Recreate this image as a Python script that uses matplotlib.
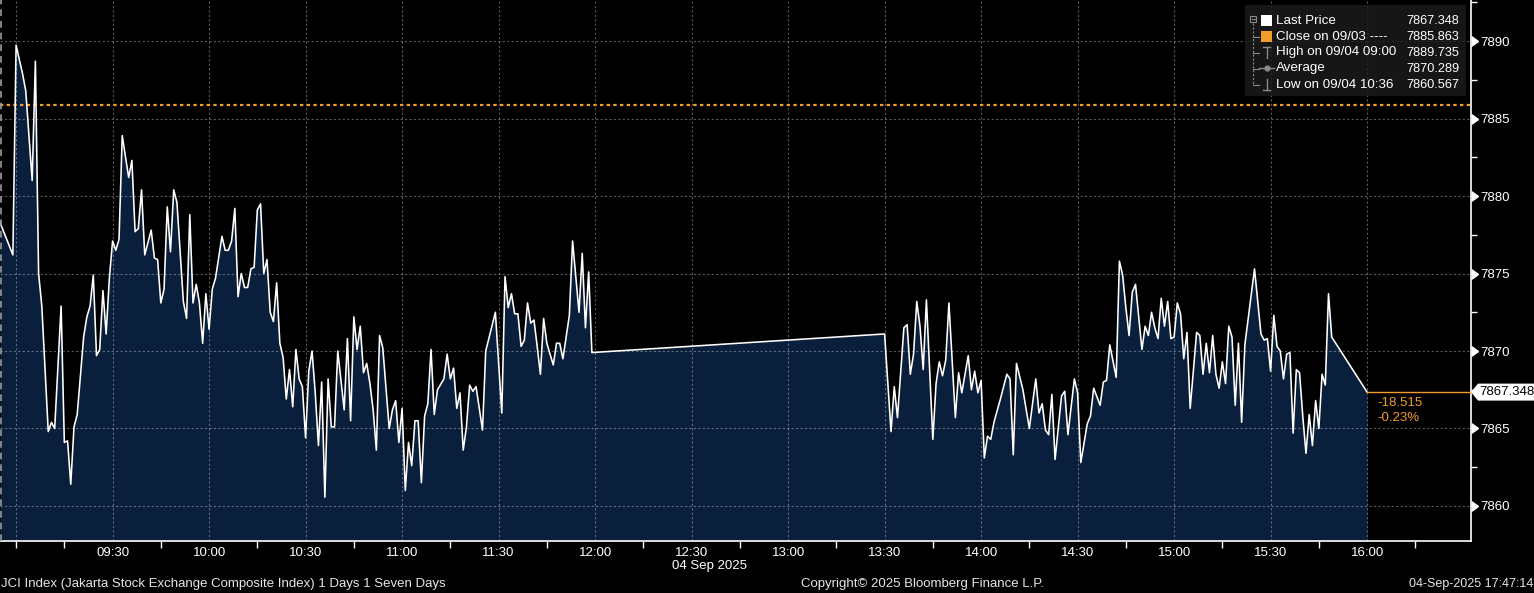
import matplotlib
matplotlib.use("Agg")
import matplotlib.pyplot as plt
from matplotlib.patches import Rectangle, Polygon
from matplotlib.lines import Line2D
import matplotlib.ticker as mticker

plt.rcParams['font.family'] = ['Liberation Sans', 'DejaVu Sans']

# ---------------- data (minutes after 09:00, JCI index level) ----------------
morning_times = [-5, -1, 0, 2, 3, 5, 6, 7, 8, 10, 11, 12, 14, 15, 16, 17, 18, 19, 21, 22,
                 23, 24, 25, 26, 27, 28, 29, 30, 31, 32, 33, 35, 36, 37, 38, 39, 40, 42, 43, 44,
                 45, 46, 47, 48, 49, 50, 52, 53, 54, 55, 56, 57, 58, 59, 60, 61, 62, 64, 65, 66,
                 67, 68, 69, 70, 71, 72, 73, 74, 75, 76, 77, 78, 79, 80, 81, 82, 83, 84, 85, 86,
                 87, 88, 89, 90, 91, 92, 93, 94, 95, 96, 97, 98, 99, 100, 101, 102, 103, 104, 105, 106,
                 107, 108, 109, 110, 111, 112, 113, 114, 116, 117, 118, 119, 120, 121, 122, 123, 124, 125, 126, 127,
                 128, 129, 130, 131, 133, 134, 135, 136, 137, 138, 139, 140, 141, 142, 143, 145, 146, 149, 151, 152,
                 153, 154, 155, 156, 157, 158, 159, 160, 161, 162, 163, 164, 165, 167, 168, 169, 170, 172, 173, 175,
                 176, 177, 178, 179]
morning_prices = [7878.3, 7876.2, 7889.735, 7887.9, 7886.8, 7881.0, 7888.7, 7875.0, 7872.9, 7864.8,
                  7865.4, 7865.0, 7872.9, 7864.1, 7864.2, 7861.4, 7865.1, 7865.9, 7870.9, 7872.2,
                  7872.9, 7874.9, 7869.7, 7870.1, 7873.9, 7871.1, 7874.7, 7877.1, 7876.5, 7877.2,
                  7883.9, 7881.2, 7882.3, 7877.7, 7877.9, 7880.4, 7876.2, 7877.8, 7876.0, 7875.9,
                  7873.1, 7874.0, 7879.3, 7876.4, 7880.4, 7879.6, 7873.2, 7872.1, 7878.8, 7873.1,
                  7874.3, 7873.1, 7870.5, 7873.7, 7871.4, 7874.0, 7874.7, 7877.4, 7876.5, 7876.5,
                  7877.1, 7879.2, 7873.5, 7875.0, 7874.1, 7874.1, 7875.3, 7875.4, 7879.1, 7879.5,
                  7875.0, 7875.9, 7872.5, 7871.9, 7874.4, 7870.5, 7869.6, 7866.9, 7868.8, 7866.4,
                  7870.1, 7868.2, 7867.7, 7864.4, 7868.7, 7870.0, 7867.3, 7863.9, 7868.0, 7860.567,
                  7868.2, 7865.1, 7865.1, 7870.0, 7868.1, 7866.2, 7870.8, 7865.5, 7872.2, 7870.1,
                  7871.6, 7868.6, 7869.2, 7867.9, 7866.2, 7863.6, 7871.0, 7870.2, 7865.0, 7866.2,
                  7866.8, 7864.1, 7866.3, 7861.0, 7864.1, 7862.6, 7865.5, 7865.5, 7861.5, 7865.8,
                  7866.6, 7870.1, 7865.9, 7867.5, 7868.2, 7869.8, 7868.2, 7868.9, 7866.3, 7867.3,
                  7863.6, 7865.1, 7867.8, 7867.4, 7867.7, 7864.9, 7870.0, 7872.5, 7866.0, 7874.8,
                  7872.8, 7873.7, 7872.4, 7872.4, 7870.3, 7870.7, 7873.1, 7871.8, 7872.0, 7870.3,
                  7868.5, 7872.1, 7870.5, 7869.1, 7870.5, 7870.5, 7869.5, 7872.3, 7877.1, 7872.5,
                  7876.3, 7871.5, 7875.1, 7869.9]
afternoon_times = [270, 272, 273, 274, 276, 277, 278, 279, 280, 281, 282, 283, 285, 286, 287, 288, 289, 290, 292, 293,
                   294, 296, 297, 298, 299, 300, 301, 302, 303, 304, 306, 308, 309, 310, 311, 313, 315, 317, 318, 319,
                   320, 321, 322, 323, 325, 326, 327, 329, 330, 331, 333, 334, 335, 337, 338, 339, 340, 342, 343, 344,
                   345, 346, 347, 348, 350, 351, 352, 353, 354, 355, 356, 357, 358, 359, 360, 361, 362, 363, 364, 365,
                   367, 368, 369, 370, 371, 372, 373, 374, 375, 376, 377, 378, 379, 380, 381, 382, 385, 387, 388, 389,
                   390, 391, 392, 393, 394, 395, 396, 397, 398, 399, 400, 401, 402, 403, 404, 405, 406, 407, 408, 409,
                   420]
afternoon_prices = [7871.1, 7864.8, 7867.7, 7865.7, 7871.5, 7871.7, 7868.5, 7869.8, 7873.2, 7871.6,
                    7868.8, 7873.3, 7864.3, 7867.9, 7869.3, 7868.4, 7869.4, 7873.1, 7865.7, 7868.6,
                    7867.3, 7869.7, 7867.5, 7868.7, 7867.3, 7868.1, 7863.1, 7864.5, 7864.3, 7865.4,
                    7866.9, 7868.5, 7868.2, 7863.3, 7869.2, 7867.5, 7865.0, 7868.2, 7866.0, 7866.6,
                    7864.9, 7864.6, 7867.2, 7863.0, 7867.1, 7867.4, 7864.6, 7868.2, 7867.3, 7862.8,
                    7865.3, 7865.8, 7867.6, 7866.5, 7868.0, 7868.1, 7870.4, 7868.3, 7875.8, 7874.9,
                    7872.8, 7871.0, 7873.8, 7874.3, 7870.1, 7871.6, 7871.0, 7872.5, 7871.5, 7870.8,
                    7873.4, 7871.6, 7873.2, 7870.8, 7870.9, 7873.1, 7872.4, 7869.5, 7871.2, 7866.3,
                    7871.2, 7871.0, 7868.5, 7870.5, 7868.6, 7871.0, 7868.5, 7867.6, 7869.3, 7867.9,
                    7871.6, 7870.9, 7866.5, 7870.5, 7865.4, 7870.4, 7875.3, 7871.1, 7870.7, 7870.8,
                    7868.7, 7872.3, 7870.3, 7870.0, 7868.2, 7869.8, 7869.9, 7864.7, 7868.8, 7868.6,
                    7865.8, 7863.4, 7865.9, 7863.9, 7866.8, 7865.0, 7868.5, 7867.8, 7873.7, 7870.9,
                    7867.348]

prev_close = 7885.863
last_price = 7867.348
change_text = "-18.515"
change_pct_text = "-0.23%"

legend_labels = ["Last Price", "Close on 09/03 ----", "High on 09/04 09:00", "Average", "Low on 09/04 10:36"]
legend_values = ["7867.348", "7885.863", "7889.735", "7870.289", "7860.567"]

x_tick_minutes = [30, 60, 90, 120, 150, 180, 210, 240, 270, 300, 330, 360, 390, 420]
x_tick_labels = ["09:30", "10:00", "10:30", "11:00", "11:30", "12:00", "12:30", "13:00",
                 "13:30", "14:00", "14:30", "15:00", "15:30", "16:00"]
x_minor_minutes = [0, 15, 45, 75, 105, 135, 165, 195, 225, 255, 285, 315, 345, 375, 405, 435]
grid_minutes = [0] + x_tick_minutes
y_ticks = [7860, 7865, 7870, 7875, 7880, 7885, 7890]
y_minor = [7857.5, 7862.5, 7867.5, 7872.5, 7877.5, 7882.5, 7887.5, 7892.5]

date_label = "04 Sep 2025"
footer_left = "JCI Index (Jakarta Stock Exchange Composite Index) 1 Days 1 Seven Days"
footer_mid = "Copyright\u00a9 2025 Bloomberg Finance L.P."
footer_right = "04-Sep-2025 17:47:14"

# ---------------- figure ----------------
W, H = 1534, 593
fig = plt.figure(figsize=(W / 100, H / 100), dpi=100, facecolor="black")
ax = fig.add_axes([0, 52 / H, 1471 / W, 541 / H])
ax.set_facecolor("black")

XMIN, XMAX = -5, 452.3
YMIN, YMAX = 7857.74, 7892.65
ax.set_xlim(XMIN, XMAX)
ax.set_ylim(YMIN, YMAX)

times = morning_times + afternoon_times
prices = morning_prices + afternoon_prices

FILL = "#0a1f3b"
ORANGE = "#f39c2c"
ax.fill_between(times, prices, YMIN, color=FILL, lw=0, zorder=1)
ax.plot(times, prices, color="white", lw=1.15, zorder=5)

# gridlines
for m in grid_minutes:
    ax.axvline(m, color="white", alpha=0.35, lw=0.8, dashes=(2, 2), zorder=2)
for v in y_ticks:
    ax.axhline(v, color="white", alpha=0.35, lw=0.8, dashes=(2, 2), zorder=2)
ax.axvline(XMIN + 0.25, color="#9a9a9a", lw=1.2, dashes=(4, 3), zorder=6)

# previous close line
ax.axhline(prev_close, color=ORANGE, lw=1.6, dashes=(1.5, 1.5), zorder=4)

# last price guide
ax.plot([times[-1], XMAX], [last_price, last_price], color=ORANGE, lw=1.0, zorder=6, clip_on=False)
ax.annotate(change_text, xy=(times[-1], last_price), xytext=(10, -11), textcoords="offset pixels",
            color=ORANGE, fontsize=9.5, va="center", ha="left")
ax.annotate(change_pct_text, xy=(times[-1], last_price), xytext=(10, -26), textcoords="offset pixels",
            color=ORANGE, fontsize=9.5, va="center", ha="left")

# spines
for s in ["top", "left"]:
    ax.spines[s].set_visible(False)
for s in ["bottom", "right"]:
    ax.spines[s].set_color("white")
    ax.spines[s].set_linewidth(1.2)

# y axis on the right
ax.yaxis.tick_right()
ax.set_yticks(y_ticks)
ax.set_yticklabels([str(v) for v in y_ticks])
ax.yaxis.set_minor_locator(mticker.FixedLocator(y_minor))
ax.tick_params(axis="y", which="major", length=0, pad=7, labelsize=9.5, labelcolor="white")
ax.tick_params(axis="y", which="minor", length=4, width=1, color="white", direction="out")
ax.plot([1.0] * len(y_ticks), y_ticks, transform=ax.get_yaxis_transform(), marker=9, ms=7,
        color="white", ls="none", clip_on=False, zorder=7)

# x axis
ax.set_xticks(x_tick_minutes)
ax.set_xticklabels(x_tick_labels)
ax.xaxis.set_minor_locator(mticker.FixedLocator(x_minor_minutes))
ax.tick_params(axis="x", which="major", length=0, pad=4, labelsize=9.5, labelcolor="white")
ax.tick_params(axis="x", which="minor", length=5, width=1, color="white", direction="out")

fig.text(710 / W, 1 - 566 / H, date_label, color="white", fontsize=9.5, ha="center", va="center")
fig.text(1 / W, 1 - 584 / H, footer_left, color="#e6e6e6", fontsize=9.5, ha="left", va="center")
fig.text(923 / W, 1 - 584 / H, footer_mid, color="#e6e6e6", fontsize=9.5, ha="center", va="center")
fig.text(1533 / W, 1 - 584 / H, footer_right, color="#e6e6e6", fontsize=9, ha="right", va="center")

# last price tag on the right axis
fig.canvas.draw()
x0, y0 = ax.get_yaxis_transform().transform((1.0, last_price))
tag = Polygon([(x0, y0), (x0 + 7, y0 + 8.5), (W, y0 + 8.5), (W, y0 - 8.5), (x0 + 7, y0 - 8.5)],
              closed=True, transform=None, facecolor="white", edgecolor="none", zorder=10)
fig.patches.append(tag)
fig.text((x0 + 8) / W, y0 / H, f"{last_price:.3f}", color="black", fontsize=9.5,
         ha="left", va="center", zorder=11)

# ---------------- legend panel ----------------
def fx(px):
    return px / W


def fy(py):
    return 1 - py / H


fig.patches.append(Rectangle((fx(1245), fy(96)), (1466 - 1245) / W, 91 / H, transform=fig.transFigure,
                             facecolor="#1c1c1c", alpha=0.82, edgecolor="none", zorder=8))
row_y = [20.5, 36.5, 52.5, 68.5, 84.5]
gray = "#8a8a8a"
# tree
fig.patches.append(Rectangle((fx(1250), fy(22)), 6 / W, 6 / H, transform=fig.transFigure,
                             facecolor="none", edgecolor=gray, lw=0.8, zorder=9))
fig.lines.append(Line2D([fx(1251.5), fx(1254.5)], [fy(19), fy(19)], transform=fig.transFigure, color=gray, lw=0.8, zorder=9))
fig.lines.append(Line2D([fx(1253), fx(1253)], [fy(23), fy(row_y[-1])], transform=fig.transFigure,
                        color=gray, lw=0.8, dashes=(2, 1.5), zorder=9))
for ry in row_y[1:]:
    fig.lines.append(Line2D([fx(1253), fx(1259)], [fy(ry), fy(ry)], transform=fig.transFigure,
                            color=gray, lw=0.8, zorder=9))
# icons
fig.patches.append(Rectangle((fx(1261), fy(26)), 11 / W, 11 / H, transform=fig.transFigure,
                             facecolor="white", edgecolor="none", zorder=9))
fig.patches.append(Rectangle((fx(1261), fy(42)), 11 / W, 11 / H, transform=fig.transFigure,
                             facecolor=ORANGE, edgecolor="none", zorder=9))
fig.lines.append(Line2D([fx(1266.5), fx(1266.5)], [fy(47), fy(58)], transform=fig.transFigure, color=gray, lw=1, zorder=9))
fig.lines.append(Line2D([fx(1263), fx(1270)], [fy(47), fy(47)], transform=fig.transFigure, color=gray, lw=1, zorder=9))
fig.lines.append(Line2D([fx(1259), fx(1274)], [fy(68), fy(68)], transform=fig.transFigure, color=gray, lw=1, zorder=9))
fig.lines.append(Line2D([fx(1266.5)], [fy(68)], transform=fig.transFigure, color=gray, marker="o", ms=3.5, zorder=9))
fig.lines.append(Line2D([fx(1266.5), fx(1266.5)], [fy(79), fy(90)], transform=fig.transFigure, color=gray, lw=1, zorder=9))
fig.lines.append(Line2D([fx(1263), fx(1270)], [fy(90), fy(90)], transform=fig.transFigure, color=gray, lw=1, zorder=9))

for ry, lab, val in zip(row_y, legend_labels, legend_values):
    fig.text(fx(1276), fy(ry), lab, color="white", fontsize=9.6, ha="left", va="center", zorder=10)
    fig.text(fx(1459), fy(ry), val, color="white", fontsize=9.2, ha="right", va="center", zorder=10)

fig.savefig("out.png", dpi=100, facecolor="black")
